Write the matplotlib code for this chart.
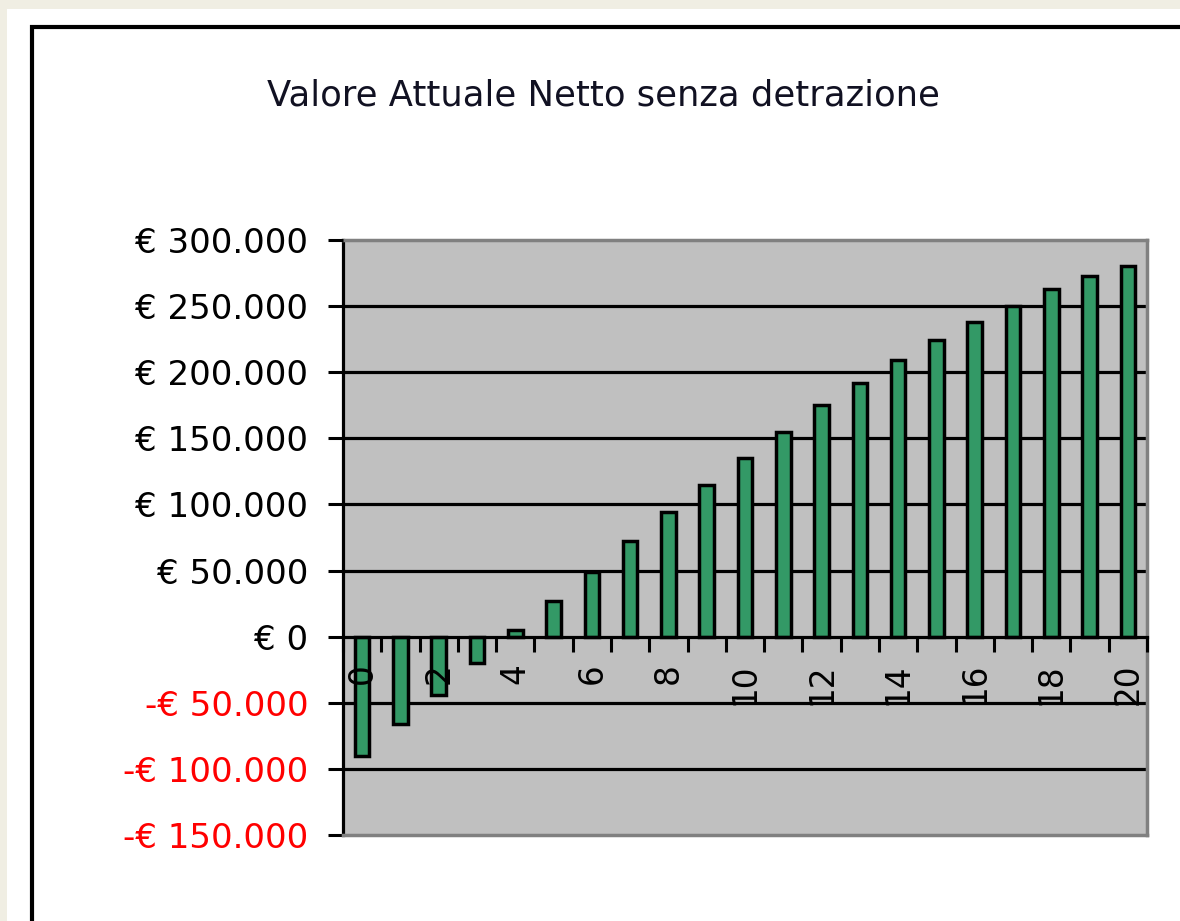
import matplotlib
matplotlib.use("Agg")
import matplotlib.pyplot as plt
from matplotlib.patches import Rectangle
from matplotlib.ticker import FixedLocator, FuncFormatter
import numpy as np

# data (NPV per year, euro)
years = list(range(21))
values = [-90000, -66000, -44000, -20000, 5000, 27000, 49000, 72000, 94000,
          115000, 135000, 155000, 175000, 192000, 209000, 224000, 238000,
          250000, 263000, 273000, 280000]
year_labels = [str(y) for y in range(0, 21, 2)]
y_ticks = [-150000, -100000, -50000, 0, 50000, 100000, 150000, 200000, 250000, 300000]
title = "Valore Attuale Netto senza detrazione"

W, H = 1180, 921
fig = plt.figure(figsize=(W / 100, H / 100), dpi=100, facecolor="#f0eee3")
plt.rcParams['font.family'] = ['DejaVu Sans']

# white sheet + black frame (both run off the canvas on the right / bottom)
fig.patches.append(Rectangle((7 / W, 0), 1.0, 1 - 9 / H, transform=fig.transFigure,
                             facecolor="white", edgecolor="none", zorder=-2))
fig.patches.append(Rectangle((32 / W, -0.1), 1.2, 1.1 - 27 / H, transform=fig.transFigure,
                             facecolor="none", edgecolor="black", linewidth=3, zorder=-1))

ax = fig.add_axes([343 / W, 1 - 835 / H, (1147 - 343) / W, (835 - 240) / H])
ax.set_facecolor("#c0c0c0")
ax.set_axisbelow(False)  # tick labels must sit on top of the bars

# horizontal gridlines drawn by hand so they stay behind the bars
for t in y_ticks[1:-1]:
    if t != 0:
        ax.axhline(t, color="black", linewidth=2.3, zorder=0.5)

ax.bar(years, values, width=0.38, color="#339966", edgecolor="black", linewidth=2.5, zorder=2)

ax.set_xlim(-0.5, 20.5)
ax.set_ylim(-150000, 300000)

# y axis
ax.yaxis.set_major_locator(FixedLocator(y_ticks))

def euro(v, pos):
    s = f"{abs(int(v)):,}".replace(",", ".")
    return ("-€ " if v < 0 else "€ ") + s

ax.yaxis.set_major_formatter(FuncFormatter(euro))
ax.tick_params(axis="y", direction="out", length=11, width=2.2, pad=14, labelsize=24.5)
for lab, v in zip(ax.get_yticklabels(), y_ticks):
    lab.set_color("red" if v < 0 else "black")

# x axis sits at zero; ticks between categories, labels on even years
ax.spines["bottom"].set_position(("data", 0))
ax.spines["bottom"].set_linewidth(2.3)
ax.spines["left"].set_linewidth(2.3)
ax.set_xticks(np.arange(-0.5, 21, 1.0))
ax.set_xticklabels([])
ax.tick_params(axis="x", which="major", direction="out", length=11, width=2.2)
ax.set_xticks(range(0, 21, 2), minor=True)
ax.set_xticklabels(year_labels, minor=True, rotation=90)
ax.tick_params(axis="x", which="minor", length=0, pad=19, labelsize=23.5)

for side in ("top", "right"):
    ax.spines[side].set_color("#808080")
    ax.spines[side].set_linewidth(2.5)
# gray bottom edge of the plot area
ax.axhline(-150000, color="#808080", linewidth=2.5, zorder=3, clip_on=False)

fig.text(603 / W, 1 - 96 / H, title, ha="center", va="center", fontsize=25.5, color="#111122")

fig.savefig("out.png", dpi=100, facecolor=fig.get_facecolor())
